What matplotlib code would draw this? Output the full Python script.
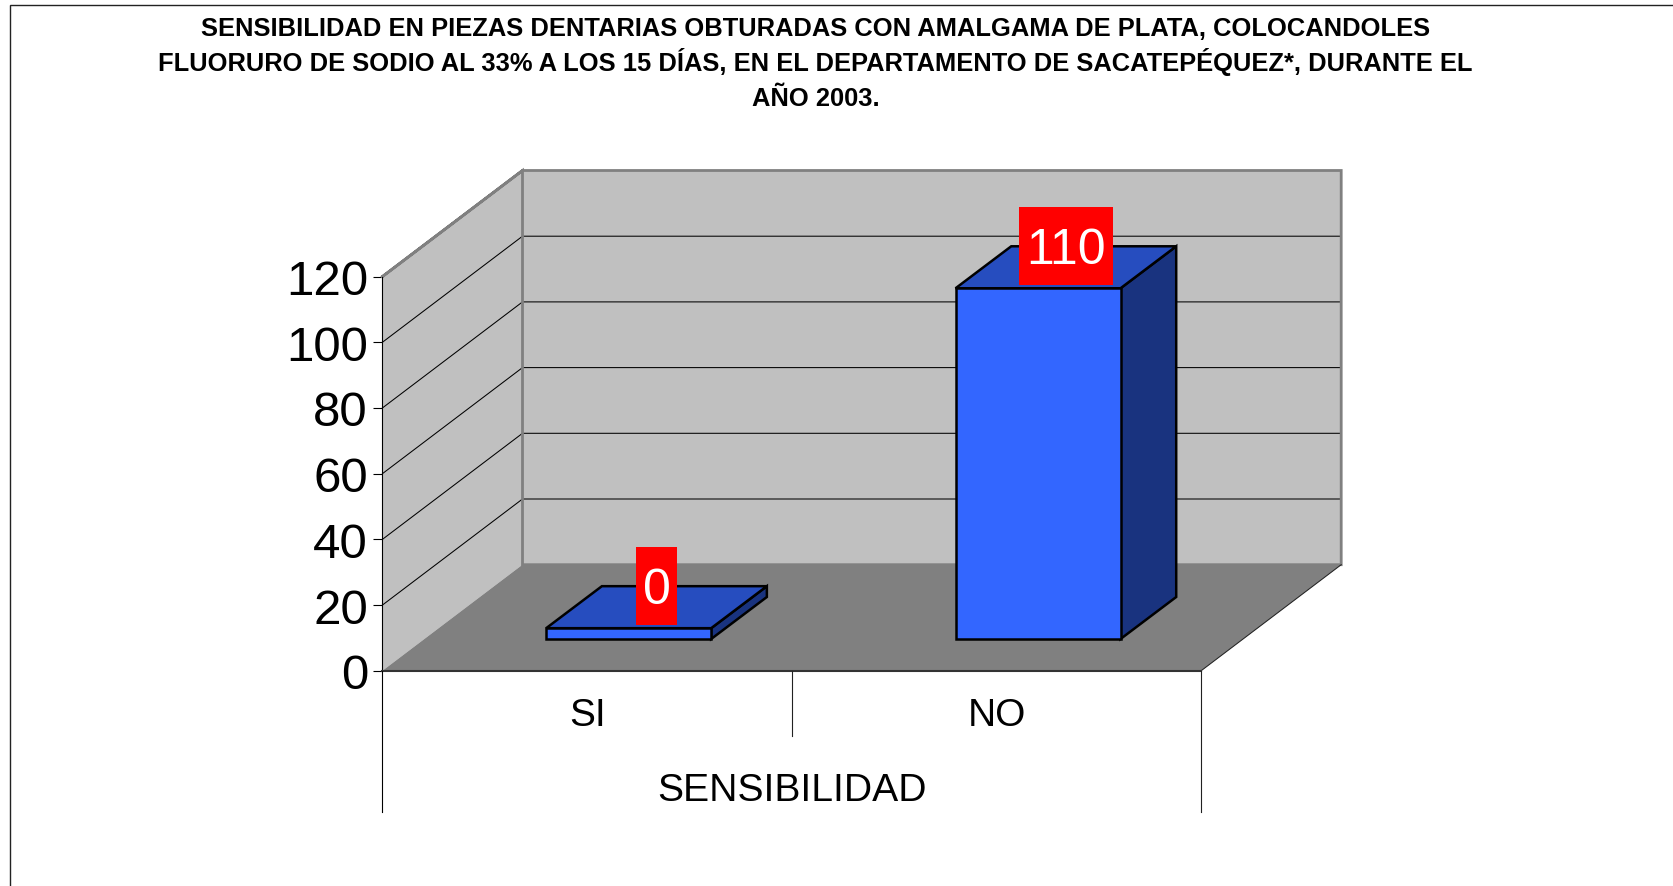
import matplotlib
matplotlib.use("Agg")
import matplotlib.pyplot as plt
from matplotlib.lines import Line2D
from matplotlib.patches import Polygon, Rectangle

# --- data ---
categories = ["SI", "NO"]
values = [0, 110]
data_labels = ["0", "110"]
y_ticks = [0, 20, 40, 60, 80, 100, 120]
axis_title = "SENSIBILIDAD"
title_lines = ["SENSIBILIDAD EN PIEZAS DENTARIAS OBTURADAS CON AMALGAMA DE PLATA, COLOCANDOLES",
               "FLUORURO DE SODIO AL 33% A LOS 15 DÍAS, EN EL DEPARTAMENTO DE SACATEPÉQUEZ*, DURANTE EL",
               "AÑO 2003."]

# --- layout (pixels) ---
W, H = 1674, 887
plt.rcParams["font.family"] = ["Liberation Sans", "DejaVu Sans"]
fig = plt.figure(figsize=(W / 100, H / 100), dpi=100, facecolor="white")

def pos(l, r, top, bottom):
    return [l / W, 1 - bottom / H, (r - l) / W, (bottom - top) / H]

PLOT_L, PLOT_R, PLOT_T, PLOT_B = 382.5, 1201.2, 277.5, 671.7
DEPTH_PX_X, DEPTH_PX_Y = 140.0, 106.0

ax = fig.add_axes(pos(PLOT_L, PLOT_R, PLOT_T, PLOT_B))
ax.set_xlim(0, len(categories))
ax.set_ylim(0, y_ticks[-1])
ax.patch.set_visible(False)
px_x = (PLOT_R - PLOT_L) / len(categories)
px_y = (PLOT_B - PLOT_T) / y_ticks[-1]
DX, DY = DEPTH_PX_X / px_x, DEPTH_PX_Y / px_y
xmax, ymax = len(categories), y_ticks[-1]

WALL, FLOOR, WALL_EDGE = "#C0C0C0", "#808080", "#808080"
# left wall, back wall, floor
ax.add_patch(Polygon([(0, 0), (0, ymax), (DX, ymax + DY), (DX, DY)], closed=True, fc=WALL, ec="none", clip_on=False, zorder=1))
ax.add_patch(Polygon([(DX, DY), (DX, ymax + DY), (xmax + DX, ymax + DY), (xmax + DX, DY)], closed=True, fc=WALL, ec="none", clip_on=False, zorder=1))
ax.add_patch(Polygon([(0, 0), (DX, DY), (xmax + DX, DY), (xmax, 0)], closed=True, fc=FLOOR, ec="none", clip_on=False, zorder=1))
# gridlines
for t in y_ticks[1:-1]:
    ax.plot([0, DX, xmax + DX], [t, t + DY, t + DY], color="black", lw=0.75, clip_on=False, zorder=2)
# wall edges
ax.plot([0, DX, xmax + DX, xmax + DX, DX, DX, 0],
        [ymax, ymax + DY, ymax + DY, DY, DY, ymax + DY, ymax],
        color=WALL_EDGE, lw=2.0, clip_on=False, zorder=2, solid_joinstyle="miter")
ax.plot([xmax, xmax + DX], [0, DY], color="#222222", lw=0.75, clip_on=False, zorder=2)

# axes and ticks
for s in ["top", "right"]:
    ax.spines[s].set_visible(False)
ax.spines["left"].set_linewidth(0.8)
ax.spines["bottom"].set_linewidth(1.5)
ax.spines["bottom"].set_color("#333333")
ax.set_yticks(y_ticks)
ax.tick_params(axis="y", length=6.5, width=0.8, pad=4, labelsize=35.5)
ax.set_xticks([i + 0.5 for i in range(len(categories))])
ax.set_xticklabels(categories)
ax.tick_params(axis="x", length=0, pad=19, labelsize=28)
ax.set_xlabel(axis_title, fontsize=28.2, labelpad=28)
SEP_SHORT, SEP_LONG = -19.8, -43
ax.plot([0, 0], [0, SEP_LONG], color="black", lw=0.8, clip_on=False, zorder=3)
ax.plot([xmax, xmax], [0, SEP_LONG], color="#222222", lw=0.8, clip_on=False, zorder=3)
ax.plot([1, 1], [0, SEP_SHORT], color="#222222", lw=0.8, clip_on=False, zorder=3)

# --- bars: own value scale, standing inside the floor ---
BAR_SHIFT_X, BAR_BASE_PX = 41.5, 640.0
PX_PER_UNIT = 3.09
BASE_VALUE = -3.5
bax_top = 100.0
bax = fig.add_axes(pos(PLOT_L + BAR_SHIFT_X, PLOT_R + BAR_SHIFT_X, bax_top, BAR_BASE_PX), zorder=ax.get_zorder() + 1)
bax.set_xlim(0, len(categories))
bax.set_ylim(BASE_VALUE, BASE_VALUE + (BAR_BASE_PX - bax_top) / PX_PER_UNIT)
bax.axis("off")

BAR_W = 0.403
BAR_DX, BAR_DY = 55.7 / px_x, 42.0 / PX_PER_UNIT
FRONT, TOP, SIDE = "#3366FF", "#264DBF", "#19337F"
EDGE = dict(ec="black", lw=1.8, joinstyle="miter", clip_on=False)

label_items = []
for i, v in enumerate(values):
    x0 = i + 0.5 - BAR_W / 2
    x1 = i + 0.5 + BAR_W / 2
    bax.add_patch(Polygon([(x1, BASE_VALUE), (x1 + BAR_DX, BASE_VALUE + BAR_DY), (x1 + BAR_DX, v + BAR_DY), (x1, v)],
                          closed=True, fc=SIDE, zorder=3, **EDGE))
    bax.add_patch(Polygon([(x0, v), (x0 + BAR_DX, v + BAR_DY), (x1 + BAR_DX, v + BAR_DY), (x1, v)],
                          closed=True, fc=TOP, zorder=3, **EDGE))
    bax.bar(i + 0.5, v - BASE_VALUE, BAR_W, bottom=BASE_VALUE, color=FRONT, edgecolor="black",
            linewidth=1.8, clip_on=False, zorder=4)
    # data label: centred on the back edge of the bar top
    t = bax.text(i + 0.5 + BAR_DX / 2, v + BAR_DY, data_labels[i], color="white", fontsize=36,
                 ha="center", va="center", zorder=7, clip_on=False)
    label_items.append(t)

# red label boxes sized from the rendered text
fig.canvas.draw()
rend = fig.canvas.get_renderer()
BOX_H_PX = 78.0
for t in label_items:
    ext = t.get_window_extent(rend)
    cx, cy = bax.transData.transform(t.get_position())
    w = 1.025 * ext.width + 12.4
    fig.add_artist(Rectangle(((cx - w / 2) / W, (cy - BOX_H_PX / 2) / H), w / W, BOX_H_PX / H,
                             transform=fig.transFigure, fc="#FF0000", ec="none", zorder=bax.get_zorder() + 0.5))
    t.remove()
    fig.text(cx / W, (cy - 3.5) / H, t.get_text(), color="white", fontsize=36, ha="center", va="center",
             zorder=bax.get_zorder() + 1)

# title and frame
TITLE_BASELINES = [36.5, 71.0, 105.5]
for line, by in zip(title_lines, TITLE_BASELINES):
    fig.text(815.5 / W, 1 - by / H, line, fontsize=18.4, fontweight="bold", ha="center", va="baseline",
             color="black")
fig.add_artist(Line2D([10.5 / W, 10.5 / W, 1], [0, 1 - 6 / H, 1 - 6 / H], color="#222222", lw=1.0,
                      transform=fig.transFigure, solid_joinstyle="miter"))

fig.savefig("out.png", dpi=100, facecolor="white")
